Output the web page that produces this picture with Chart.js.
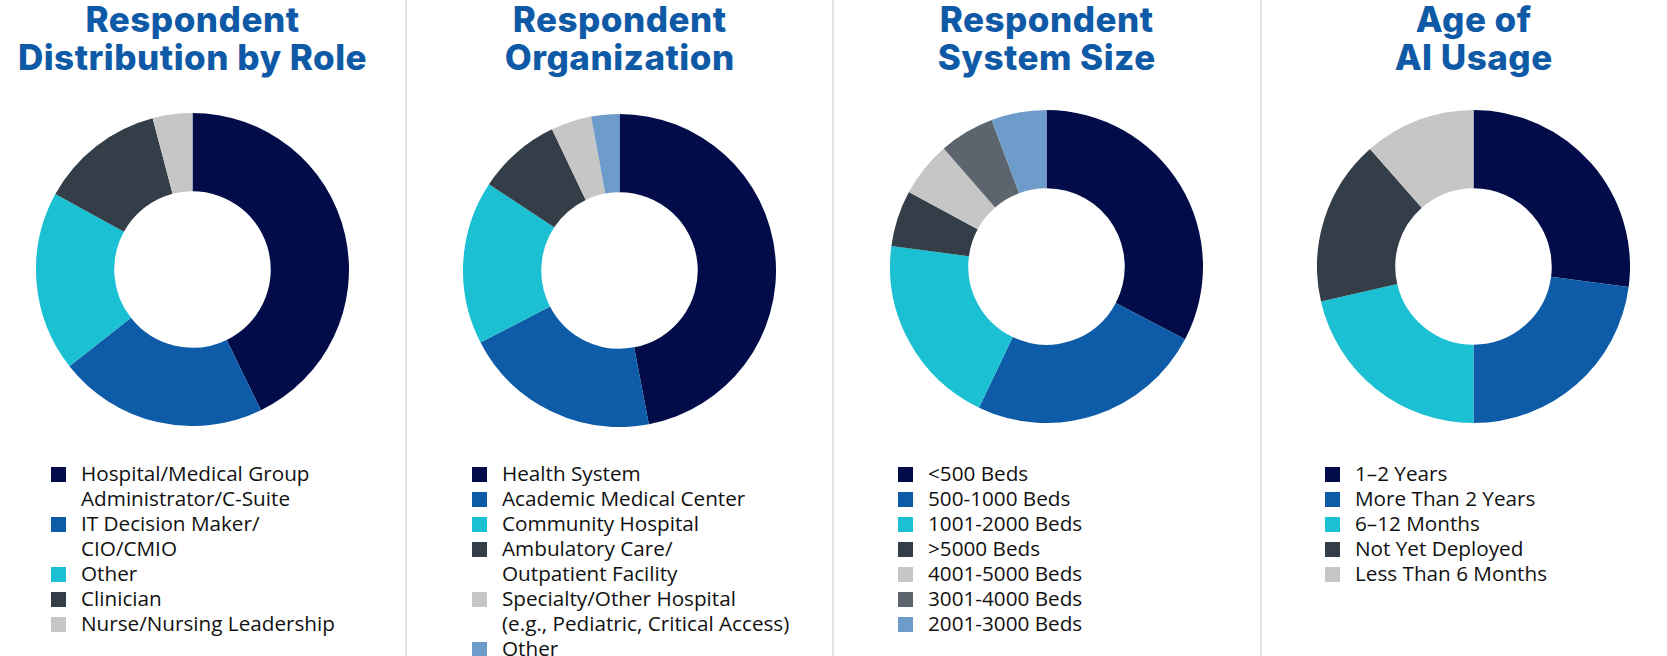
<!DOCTYPE html>
<html>
<head>
<meta charset="utf-8">
<script src="https://cdn.jsdelivr.net/npm/chart.js@4.4.1/dist/chart.umd.min.js"></script>
<style>
  html, body { margin: 0; padding: 0; background: #ffffff; }
  body { width: 1667px; height: 656px; position: relative; overflow: hidden; }
  .divider { position: absolute; top: 0; width: 2px; height: 656px; background: #E2E2E2; }
  .title { position: absolute; top: 0; width: 427px; text-align: center;
           font-family: Inter, "Open Sans", sans-serif; font-weight: 800; font-size: 35px;
           line-height: 38px; color: #0F5AA6; letter-spacing: 0.5px; }
  .cv { position: absolute; }
  .legend { position: absolute; top: 461px; font-family: "Open Sans", sans-serif; font-size: 20.7px;
            line-height: 25px; color: #111111; white-space: nowrap; }
  .row { position: relative; height: 25px; padding-left: 30px; }
  .sw { position: absolute; left: 0; top: 5.5px; width: 15px; height: 15px; }
</style>
</head>
<body>
<div class="divider" style="left:405px"></div>
<div class="divider" style="left:832px"></div>
<div class="divider" style="left:1260px"></div>

<script>
// ---- Data ----
const titles = [
  ["Respondent", "Distribution by Role"],
  ["Respondent", "Organization"],
  ["Respondent", "System Size"],
  ["Age of", "AI Usage"]
];

const roleLabels = [
  ["Hospital/Medical Group", "Administrator/C-Suite"],
  ["IT Decision Maker/", "CIO/CMIO"],
  ["Other"],
  ["Clinician"],
  ["Nurse/Nursing Leadership"]
];
const roleValues = [42.8, 21.6, 18.6, 12.9, 4.1];

const orgLabels = [
  ["Health System"],
  ["Academic Medical Center"],
  ["Community Hospital"],
  ["Ambulatory Care/", "Outpatient Facility"],
  ["Specialty/Other Hospital", "(e.g., Pediatric, Critical Access)"],
  ["Other"]
];
const orgValues = [47.0, 20.4, 16.9, 8.6, 4.2, 2.9];

const sizeLabels = [
  ["<500 Beds"],
  ["500-1000 Beds"],
  ["1001-2000 Beds"],
  [">5000 Beds"],
  ["4001-5000 Beds"],
  ["3001-4000 Beds"],
  ["2001-3000 Beds"]
];
const sizeValues = [32.7, 24.4, 20.0, 5.8, 5.7, 5.7, 5.7];

const ageLabels = [
  ["1\u20132 Years"],
  ["More Than 2 Years"],
  ["6\u201312 Months"],
  ["Not Yet Deployed"],
  ["Less Than 6 Months"]
];
const ageValues = [27.1, 22.9, 21.4, 17.1, 11.5];

// ---- Styles ----
const NAVY = "#020C48", BLUE = "#0E5BA8", CYAN = "#1CC0D3", SLATE = "#343E48",
      LGRAY = "#C6C6C6", MGRAY = "#5C646E", LBLUE = "#6D9CCB";
const roleColors = [NAVY, BLUE, CYAN, SLATE, LGRAY];
const orgColors  = [NAVY, BLUE, CYAN, SLATE, LGRAY, LBLUE];
const sizeColors = [NAVY, BLUE, CYAN, SLATE, LGRAY, MGRAY, LBLUE];
const ageColors  = [NAVY, BLUE, CYAN, SLATE, LGRAY];

const panels = [
  { labels: roleLabels, values: roleValues, colors: roleColors, cx: 192.5, cy: 269.5, legendX: 51 },
  { labels: orgLabels,  values: orgValues,  colors: orgColors,  cx: 619.7, cy: 270.7, legendX: 472 },
  { labels: sizeLabels, values: sizeValues, colors: sizeColors, cx: 1046.7, cy: 266.7, legendX: 898 },
  { labels: ageLabels,  values: ageValues,  colors: ageColors,  cx: 1473.7, cy: 266.3, legendX: 1325 }
];
const R = 156.5;

panels.forEach((p, i) => {
  // title
  const t = document.createElement("div");
  t.className = "title";
  t.style.left = (p.cx - 213.5) + "px";
  t.innerHTML = titles[i].map(s => s.replace(/&/g, "&amp;").replace(/</g, "&lt;")).join("<br>");
  document.body.appendChild(t);

  // canvas
  const c = document.createElement("canvas");
  c.className = "cv";
  const size = Math.round(R * 2);
  c.width = size; c.height = size;
  c.style.width = size + "px"; c.style.height = size + "px";
  c.style.left = (p.cx - size / 2) + "px";
  c.style.top = (p.cy - size / 2) + "px";
  document.body.appendChild(c);

  const chart = new Chart(c, {
    type: "doughnut",
    data: {
      labels: p.labels.map(l => l.join(" ")),
      datasets: [{
        data: p.values,
        backgroundColor: p.colors,
        borderWidth: 0,
        hoverOffset: 0,
        offset: 0
      }]
    },
    options: {
      responsive: false,
      animation: false,
      devicePixelRatio: 1,
      cutout: "50%",
      events: [],
      layout: { padding: 0 },
      plugins: { legend: { display: false }, tooltip: { enabled: false }, title: { display: false } }
    }
  });

  // HTML legend generated from chart data
  const lg = document.createElement("div");
  lg.className = "legend";
  lg.style.left = p.legendX + "px";
  const bg = chart.data.datasets[0].backgroundColor;
  p.labels.forEach((lines, k) => {
    lines.forEach((line, j) => {
      const row = document.createElement("div");
      row.className = "row";
      if (j === 0) {
        const sw = document.createElement("div");
        sw.className = "sw";
        sw.style.background = bg[k];
        row.appendChild(sw);
      }
      row.appendChild(document.createTextNode(line));
      lg.appendChild(row);
    });
  });
  document.body.appendChild(lg);
});
</script>
</body>
</html>
